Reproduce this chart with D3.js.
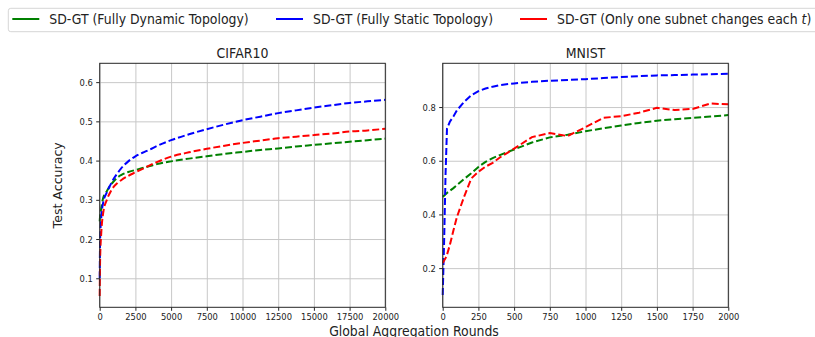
<!DOCTYPE html>
<html>
<head>
<meta charset="utf-8">
<script src="https://cdn.jsdelivr.net/npm/d3@7"></script>
<style>
  body { margin: 0; background: #fff; }
  text { font-family: 'DejaVu Sans', sans-serif; fill: #222; }
</style>
</head>
<body>
<svg id="chart" width="815" height="337"></svg>
<script>
const seriesNames = ['SD-GT (Fully Dynamic Topology)', 'SD-GT (Fully Static Topology)', 'SD-GT (Only one subnet changes each ']
const seriesColors = ['#008000', '#0000ff', '#ff0000']

// CIFAR10
const cifarRounds = [0, 30, 100, 250, 500, 750, 1000, 1250, 1500, 2000, 2500, 3000, 3500, 4000, 5000, 6250, 7500, 8750, 10000, 11250, 12500, 13750, 15000, 16250, 17500, 18750, 20000]
const cifarDynamic = [0.245, 0.26, 0.276, 0.306, 0.322, 0.337, 0.348, 0.357, 0.363, 0.371, 0.376, 0.381, 0.386, 0.391, 0.398, 0.405, 0.411, 0.417, 0.422, 0.427, 0.431, 0.436, 0.44, 0.444, 0.448, 0.452, 0.456]
const cifarStatic = [0.10, 0.20, 0.25, 0.294, 0.319, 0.338, 0.355, 0.368, 0.38, 0.398, 0.411, 0.42, 0.428, 0.437, 0.452, 0.467, 0.48, 0.492, 0.503, 0.512, 0.521, 0.528, 0.535, 0.541, 0.547, 0.551, 0.555]
const cifarOneSubnet = [0.055, 0.15, 0.21, 0.268, 0.30, 0.32, 0.334, 0.343, 0.35, 0.361, 0.37, 0.379, 0.388, 0.396, 0.41, 0.421, 0.43, 0.438, 0.445, 0.451, 0.457, 0.461, 0.465, 0.469, 0.474, 0.477, 0.481]
const cifarXTicks = [0, 2500, 5000, 7500, 10000, 12500, 15000, 17500, 20000]
const cifarYTicks = [0.1, 0.2, 0.3, 0.4, 0.5, 0.6]

// MNIST
const mnistRounds = [0, 10, 20, 30, 50, 75, 100, 150, 200, 250, 300, 350, 400, 500, 625, 750, 875, 1000, 1125, 1250, 1375, 1500, 1625, 1750, 1875, 2000]
const mnistDynamic = [0.466, 0.47, 0.475, 0.48, 0.488, 0.498, 0.509, 0.532, 0.553, 0.577, 0.596, 0.61, 0.621, 0.642, 0.668, 0.687, 0.697, 0.71, 0.721, 0.731, 0.741, 0.749, 0.755, 0.76, 0.765, 0.77]
const mnistStatic = [0.10, 0.30, 0.55, 0.72, 0.745, 0.765, 0.788, 0.819, 0.844, 0.859, 0.869, 0.876, 0.882, 0.888, 0.894, 0.898, 0.901, 0.904, 0.908, 0.912, 0.915, 0.918, 0.919, 0.921, 0.922, 0.924]
const mnistOneSubnet = [0.219, 0.228, 0.237, 0.25, 0.286, 0.34, 0.391, 0.466, 0.534, 0.559, 0.578, 0.592, 0.612, 0.645, 0.688, 0.703, 0.692, 0.725, 0.76, 0.766, 0.779, 0.797, 0.789, 0.793, 0.813, 0.81]
const mnistXTicks = [0, 250, 500, 750, 1000, 1250, 1500, 1750, 2000]
const mnistYTicks = [0.2, 0.4, 0.6, 0.8]

const plotTop = 63.3
const plotBottom = 307.3
const gridColor = '#c8c8c8'
const frameColor = '#262626'
const squeeze = 0.91 // the source figure's text is slightly narrow
const tickFont = '9.2px'

const svg = d3.select('#chart')

// horizontal text, narrowed about its anchor point
const addText = (parent, x, y, str, size, anchor) => parent.append('text')
  .attr('transform', `translate(${x},${y}) scale(${squeeze},1)`)
  .attr('text-anchor', anchor || 'start')
  .style('font-size', size)
  .text(str)

const drawPanel = (opts) => {
  const x = d3.scaleLinear().domain(opts.xDomain).range(opts.xRange)
  const y = d3.scaleLinear().domain(opts.yDomain).range([plotBottom, plotTop])
  const g = svg.append('g')

  // grid
  g.append('g')
    .attr('transform', `translate(0,${plotBottom})`)
    .call(d3.axisBottom(x).tickValues(opts.xTicks).tickSize(-(plotBottom - plotTop)).tickFormat(''))
    .call(a => a.select('.domain').remove())
    .call(a => a.selectAll('.tick line').attr('stroke', gridColor).attr('stroke-width', 1))

  g.append('g')
    .attr('transform', `translate(${opts.xRange[0]},0)`)
    .call(d3.axisLeft(y).tickValues(opts.yTicks).tickSize(-(opts.xRange[1] - opts.xRange[0])).tickFormat(''))
    .call(a => a.select('.domain').remove())
    .call(a => a.selectAll('.tick line').attr('stroke', gridColor).attr('stroke-width', 1))

  // curves
  const line = d3.line()
    .x((d, i) => x(opts.rounds[i]))
    .y(d => y(d))
    .curve(opts.curve)

  opts.series.forEach((s, i) => {
    g.append('path')
      .attr('d', line(s))
      .attr('fill', 'none')
      .attr('stroke', seriesColors[i])
      .attr('stroke-width', 2)
      .attr('stroke-dasharray', '7,3')
  })

  // ticks
  g.append('g')
    .attr('transform', `translate(0,${plotBottom})`)
    .call(d3.axisBottom(x).tickValues(opts.xTicks).tickSize(3.5).tickPadding(3).tickFormat(d3.format('d')))
    .call(a => a.select('.domain').remove())
    .call(a => a.selectAll('.tick line').attr('stroke', frameColor))
    .call(a => a.selectAll('.tick text')
      .attr('transform', `scale(${squeeze},1)`)
      .style('font-family', "'DejaVu Sans', sans-serif")
      .style('font-size', tickFont)
      .attr('fill', '#222'))

  g.append('g')
    .attr('transform', `translate(${opts.xRange[0]},0)`)
    .call(d3.axisLeft(y).tickValues(opts.yTicks).tickSize(3.5).tickPadding(3).tickFormat(d3.format('.1f')))
    .call(a => a.select('.domain').remove())
    .call(a => a.selectAll('.tick line').attr('stroke', frameColor))
    .call(a => a.selectAll('.tick text')
      .attr('x', -6.8 / squeeze)
      .attr('transform', `scale(${squeeze},1)`)
      .style('font-family', "'DejaVu Sans', sans-serif")
      .style('font-size', tickFont)
      .attr('fill', '#222'))

  // frame
  g.append('rect')
    .attr('x', opts.xRange[0])
    .attr('y', plotTop)
    .attr('width', opts.xRange[1] - opts.xRange[0])
    .attr('height', plotBottom - plotTop)
    .attr('fill', 'none')
    .attr('stroke', frameColor)
    .attr('stroke-width', 1)

  addText(g, (opts.xRange[0] + opts.xRange[1]) / 2, 57.5, opts.title, '13.8px', 'middle')
}

drawPanel({
  title: 'CIFAR10',
  xDomain: [0, 20000], xRange: [99.7, 385.3],
  yDomain: [0.026, 0.648],
  xTicks: cifarXTicks, yTicks: cifarYTicks,
  rounds: cifarRounds,
  series: [cifarDynamic, cifarStatic, cifarOneSubnet],
  curve: d3.curveMonotoneX
})

drawPanel({
  title: 'MNIST',
  xDomain: [0, 2000], xRange: [442.7, 728.3],
  yDomain: [0.054, 0.963],
  xTicks: mnistXTicks, yTicks: mnistYTicks,
  rounds: mnistRounds,
  series: [mnistDynamic, mnistStatic, mnistOneSubnet],
  curve: d3.curveLinear
})

// axis labels
svg.append('text')
  .attr('transform', `translate(61.5,${(plotTop + plotBottom) / 2}) rotate(-90) scale(1,${squeeze})`)
  .attr('text-anchor', 'middle')
  .style('font-size', '12.6px')
  .text('Test Accuracy')

addText(svg, 414, 335.5, 'Global Aggregation Rounds', '13.7px', 'middle')

// legend
const legend = svg.append('g')
legend.append('rect')
  .attr('x', 8.3).attr('y', 8.3)
  .attr('width', 820).attr('height', 23.4)
  .attr('rx', 2.5)
  .attr('fill', '#fff')
  .attr('stroke', '#d6d6d6')
  .attr('stroke-width', 1)

const legendX = [12.3, 276, 520]
seriesNames.forEach((name, i) => {
  legend.append('line')
    .attr('x1', legendX[i]).attr('x2', legendX[i] + 27)
    .attr('y1', 19).attr('y2', 19)
    .attr('stroke', seriesColors[i])
    .attr('stroke-width', 2)
  const t = addText(legend, legendX[i] + 37, 24, name, '13.7px')
  if (i === 2) {
    t.append('tspan').style('font-style', 'italic').text('t')
    t.append('tspan').text(')')
  }
})
</script>
</body>
</html>
